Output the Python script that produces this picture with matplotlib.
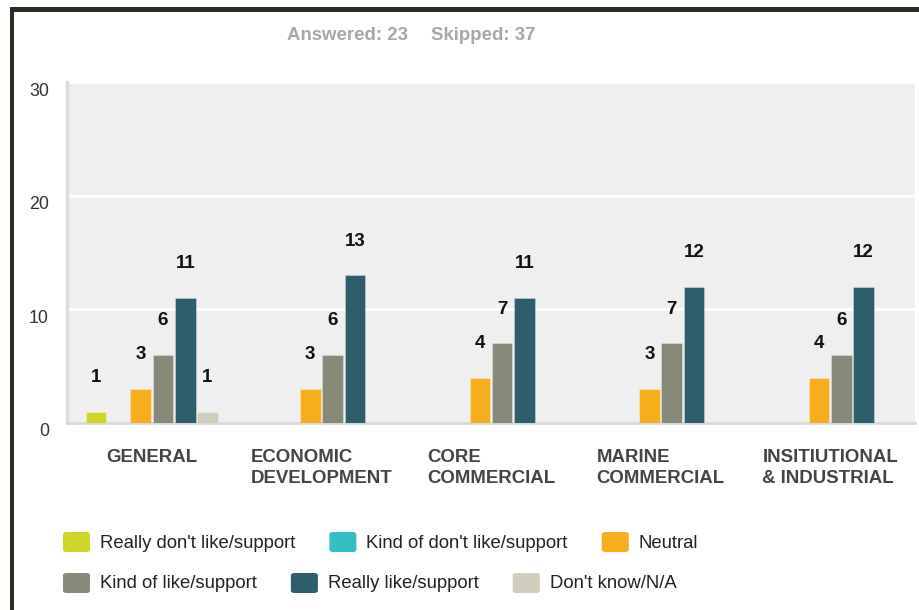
import matplotlib
matplotlib.use("Agg")
import matplotlib.pyplot as plt
from matplotlib.patches import Rectangle, FancyBboxPatch
from matplotlib.transforms import ScaledTranslation
import numpy as np

plt.rcParams['font.family'] = ['Liberation Sans', 'DejaVu Sans']

categories = ["GENERAL", "ECONOMIC\nDEVELOPMENT", "CORE\nCOMMERCIAL",
              "MARINE\nCOMMERCIAL", "INSITIUTIONAL\n& INDUSTRIAL"]
series_names = ["Really don't like/support", "Kind of don't like/support", "Neutral",
                "Kind of like/support", "Really like/support", "Don't know/N/A"]
really_dont = [1, 0, 0, 0, 0]
kind_dont = [0, 0, 0, 0, 0]
neutral = [3, 3, 4, 3, 4]
kind_like = [6, 6, 7, 7, 6]
really_like = [11, 13, 11, 12, 12]
dont_know = [1, 0, 0, 0, 0]
colors = ["#cfd52a", "#34bec1", "#f6ae1f", "#878a78", "#2e5e6b", "#cfcdbc"]
yticks = [0, 10, 20, 30]
answered_text = "Answered: 23"
skipped_text = "Skipped: 37"

series = [really_dont, kind_dont, neutral, kind_like, really_like, dont_know]

W, H = 919, 610
fig = plt.figure(figsize=(W / 100, H / 100), dpi=100)
fig.patch.set_facecolor("white")

def fx(px):
    return px / W

def fy(py):
    return 1 - py / H

ax_l, ax_r, ax_t, ax_b = 67, 915, 82, 423
ax = fig.add_axes([fx(ax_l), fy(ax_b), fx(ax_r - ax_l), (ax_b - ax_t) / H])
ax.set_facecolor("#efefef")
ax.set_xlim(-0.5, len(categories) - 0.5)
ax.set_ylim(0, 30)

x = np.arange(len(categories))
pitch = 0.1315
bw = 0.121
for i, (vals, col) in enumerate(zip(series, colors)):
    offs = (i - 2.5) * pitch
    for xi, v in zip(x, vals):
        if v > 0:
            ax.bar(xi + offs, v, width=bw, color=col, edgecolor=(1, 1, 1, 0.35),
                   linewidth=0.6, zorder=3)
            ax.annotate(str(v), (xi + offs, v), xytext=(0, 24.5), textcoords="offset points",
                        ha="center", va="center", fontsize=13.5, fontweight="bold",
                        color="#111111", zorder=4)

# grid
ax.set_yticks(yticks)
ax.yaxis.grid(True, color="white", linewidth=2, zorder=1)
ax.set_axisbelow(True)
for s in ["top", "right"]:
    ax.spines[s].set_visible(False)
ax.spines["left"].set_color("#dcdcdc")
ax.spines["left"].set_linewidth(2.5)
ax.spines["bottom"].set_color("#d8d8d8")
ax.spines["bottom"].set_linewidth(2)
ax.tick_params(axis="y", length=0, pad=13, labelsize=12.8, labelcolor="#333333")
ax.tick_params(axis="x", length=0, pad=19)
ax.set_yticklabels([str(t) for t in yticks])
for lab in ax.get_yticklabels():
    lab.set_transform(lab.get_transform() + ScaledTranslation(0, -0.07, fig.dpi_scale_trans))
ax.set_xticks(x)
ax.set_xticklabels(categories, fontsize=13.4, fontweight="bold", color="#444444",
                   linespacing=1.25, multialignment="left", va="top")

# header
fig.text(fx(287), fy(35), answered_text, ha="left", va="center", fontsize=13.4,
         fontweight="bold", color="#a7a7a7")
fig.text(fx(431), fy(35), skipped_text, ha="left", va="center", fontsize=13.4,
         fontweight="bold", color="#a7a7a7")

# frame lines
fig.add_artist(Rectangle((fx(9.5), 0), fx(4), fy(7.5), transform=fig.transFigure,
                         facecolor="#2f2c23", edgecolor="none"))
fig.add_artist(Rectangle((fx(9.5), fy(11.5)), 1, 4 / H, transform=fig.transFigure,
                         facecolor="#2f2c23", edgecolor="none"))

# legend (flow layout)
fig.canvas.draw()
renderer = fig.canvas.get_renderer()
rows = [(542, [0, 1, 2]), (583, [3, 4, 5])]
sq_w, sq_h = 27, 20
for ycen, idxs in rows:
    xpos = 63
    for i in idxs:
        fig.add_artist(FancyBboxPatch((fx(xpos), fy(ycen + sq_h / 2)), fx(sq_w), sq_h / H,
                                      boxstyle="round,pad=0,rounding_size=0.004",
                                      transform=fig.transFigure, facecolor=colors[i],
                                      edgecolor="none"))
        t = fig.text(fx(xpos + 37), fy(ycen + 1), series_names[i], ha="left", va="center",
                     fontsize=13.3, color="#222222")
        bb = t.get_window_extent(renderer)
        xpos = bb.x1 + 34

fig.savefig("out.png", dpi=100)
